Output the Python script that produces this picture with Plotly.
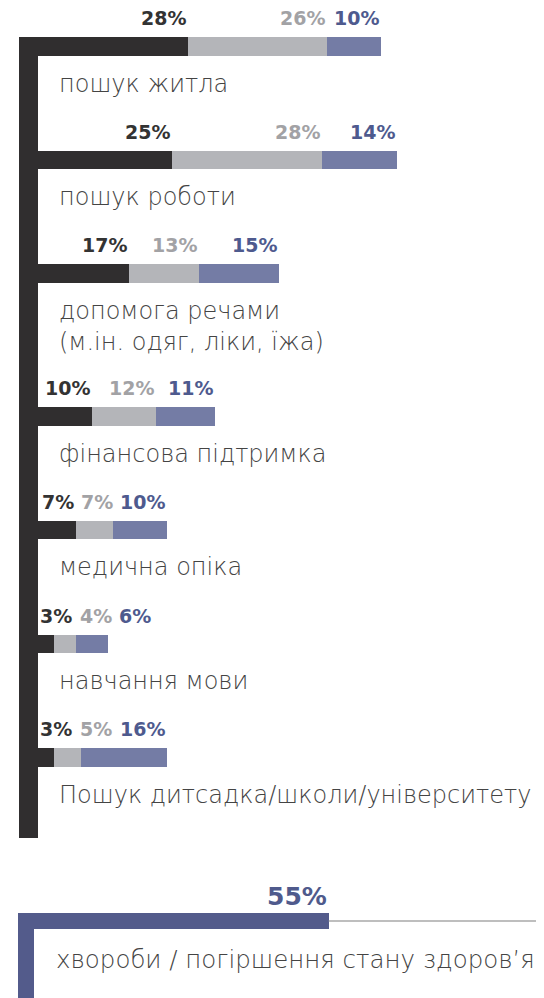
import plotly.graph_objects as go

# ---------------- data ----------------
categories = [
    "пошук житла",
    "пошук роботи",
    "допомога речами<br>(м.ін. одяг, ліки, їжа)",
    "фінансова підтримка",
    "медична опіка",
    "навчання мови",
    "Пошук дитсадка/школи/університету",
]
series_dark = [28, 25, 17, 10, 7, 3, 3]
series_gray = [26, 28, 13, 12, 7, 4, 5]
series_blue = [10, 14, 15, 11, 10, 6, 16]

bottom_category = "хвороби / погіршення стану здоров’я"
bottom_value = [55]

# ---------------- layout constants (page pixels) ----------------
W, H = 544, 998
OFF = 8               # default body margin of the html page
X0_PX = 38            # pixel position of 0 %
X0_PX_BOTTOM = 34     # pixel position of 0 % for the bottom block
PX_PER_PCT = 5.36
FIRST_TOP = 37
ROW_PITCH = 113.7
EXTRA_LINE = 29
BAR_H = 18.5
LABEL_DY = 28
PCT_DY = 19
SPINE_L, SPINE_BOTTOM = 19, 838
BOTTOM_TOP, BOTTOM_BAR_H, BOTTOM_SPINE_L = 913, 16, 18

FONT = "DejaVu Sans"
C_DARK, C_GRAY, C_BLUE = "#302e2f", "#b4b5b9", "#747ca5"
T_DARK, T_GRAY, T_BLUE = "#333333", "#a2a2a5", "#4e5a8e"
C_BOTTOM, T_BOTTOM = "#535b8b", "#4f5a8c"
LBL_SIZE = 19
CAT_SIZE = 24
DIGIT_W, PCT_W = 0.696, 1.002  # DejaVu Sans Bold advance widths (em)


def px2x(px, zero=X0_PX):
    return (px - zero) / PX_PER_PCT


# row positions derived from number of label lines
tops = []
t = FIRST_TOP
for cat in categories:
    tops.append(t)
    t += ROW_PITCH + EXTRA_LINE * cat.count("<br>")
centers = [tp + BAR_H / 2 for tp in tops]

fig = go.Figure()
for vals, col in [(series_dark, C_DARK), (series_gray, C_GRAY), (series_blue, C_BLUE)]:
    fig.add_trace(go.Bar(
        x=vals, y=centers, orientation="h", width=BAR_H,
        marker=dict(color=col, line=dict(width=0)),
        hoverinfo="skip", showlegend=False,
    ))

# bottom block bar
fig.add_trace(go.Bar(
    x=bottom_value, y=[BOTTOM_TOP + BOTTOM_BAR_H / 2], orientation="h",
    width=BOTTOM_BAR_H, xaxis="x2", yaxis="y",
    marker=dict(color=C_BOTTOM, line=dict(width=0)),
    hoverinfo="skip", showlegend=False,
))

annotations = []


def text_w(txt):
    n_d = sum(ch.isdigit() for ch in txt)
    return (n_d * DIGIT_W + txt.count("%") * PCT_W) * LBL_SIZE


for i, cat in enumerate(categories):
    vals = [series_dark[i], series_gray[i], series_blue[i]]
    cols = [T_DARK, T_GRAY, T_BLUE]
    cum = 0
    left_bound = 4 / PX_PER_PCT
    for v, c in zip(vals, cols):
        cum += v
        txt = f"{v}%"
        w = text_w(txt) / PX_PER_PCT
        right = max(cum, left_bound + w)
        left_bound = right + 7 / PX_PER_PCT
        annotations.append(dict(
            x=right, y=tops[i] - PCT_DY, xref="x", yref="y",
            text=f"<b>{txt}</b>", showarrow=False, xanchor="right", yanchor="middle",
            font=dict(family=FONT, size=LBL_SIZE, color=c),
        ))
    nlines = cat.count("<br>") + 1
    annotations.append(dict(
        x=px2x(57), y=tops[i] + BAR_H + LABEL_DY + (nlines - 1) * 16,
        xref="x", yref="y", text=cat, showarrow=False,
        xanchor="left", yanchor="middle", align="left",
        font=dict(family=FONT, size=CAT_SIZE, color="#444444", weight=300),
    ))

annotations.append(dict(
    x=bottom_value[0], y=BOTTOM_TOP - 17, xref="x2", yref="y",
    text=f"<b>{bottom_value[0]}%</b>", showarrow=False, xanchor="right", yanchor="middle",
    font=dict(family=FONT, size=25, color=T_BOTTOM),
))
annotations.append(dict(
    x=px2x(54, X0_PX_BOTTOM), y=959, xref="x2", yref="y",
    text=bottom_category, showarrow=False, xanchor="left", yanchor="middle",
    font=dict(family=FONT, size=24.5, color="#444444", weight=300),
))

x2_max = px2x(OFF + W, X0_PX_BOTTOM)
shapes = [
    dict(type="rect", xref="x", yref="y", x0=px2x(SPINE_L), x1=0,
         y0=FIRST_TOP, y1=SPINE_BOTTOM, fillcolor=C_DARK, line=dict(width=0)),
    dict(type="rect", xref="x2", yref="y", x0=px2x(BOTTOM_SPINE_L, X0_PX_BOTTOM), x1=0,
         y0=BOTTOM_TOP, y1=H + OFF + 5, fillcolor=C_BOTTOM, line=dict(width=0)),
    dict(type="line", xref="x2", yref="y", x0=bottom_value[0], x1=x2_max,
         y0=BOTTOM_TOP + BOTTOM_BAR_H / 2, y1=BOTTOM_TOP + BOTTOM_BAR_H / 2,
         line=dict(color="#a9a9a9", width=1.5)),
]

fig.update_layout(
    width=W, height=H, margin=dict(l=0, r=0, t=0, b=0),
    paper_bgcolor="white", plot_bgcolor="white",
    barmode="stack", bargap=0,
    xaxis=dict(range=[px2x(OFF), px2x(OFF + W)], visible=False, fixedrange=True),
    xaxis2=dict(range=[px2x(OFF, X0_PX_BOTTOM), x2_max], visible=False,
                overlaying="x", fixedrange=True),
    yaxis=dict(range=[OFF + H, OFF], visible=False, fixedrange=True),
    annotations=annotations, shapes=shapes,
)

fig.write_html("out.html", config={"displayModeBar": False})
